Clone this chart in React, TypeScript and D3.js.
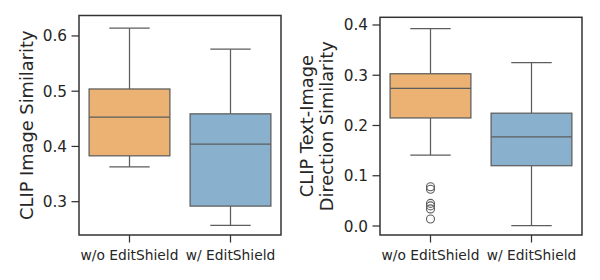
import React from 'react';
import * as d3 from 'd3';

const categories = ['w/o EditShield', 'w/ EditShield'];
const boxColors = ['#ebb273', '#89b0cc'];

// box stats: [lowWhisker, q1, median, q3, highWhisker]
const imageSimStats = [
  [0.363, 0.383, 0.453, 0.504, 0.614],
  [0.257, 0.292, 0.404, 0.459, 0.576],
];
const imageSimOutliers: number[][] = [[], []];
const imageSimTicks = [0.3, 0.4, 0.5, 0.6];

const dirSimStats = [
  [0.141, 0.215, 0.274, 0.303, 0.393],
  [0.001, 0.12, 0.1775, 0.2245, 0.325],
];
const dirSimOutliers = [[0.078, 0.073, 0.045, 0.04, 0.034, 0.014], []];
const dirSimTicks = [0.0, 0.1, 0.2, 0.3, 0.4];

const lineColor = '#5d5d5d';
const spineColor = '#333333';
const textColor = '#262626';

type PanelProps = {
  left: number; right: number; top: number; bottom: number;
  domain: [number, number];
  ticks: number[];
  stats: number[][];
  outliers: number[][];
  label: string[];
  labelX: number;
};

const Panel = ({ left, right, top, bottom, domain, ticks, stats, outliers, label, labelX }: PanelProps) => {
  const x = d3.scaleBand().domain(categories).range([left, right]).paddingInner(0).paddingOuter(0);
  const y = d3.scaleLinear().domain(domain).range([bottom, top]);
  const boxW = x.bandwidth() * 0.8;
  const capW = boxW / 2;
  const fmt = d3.format('.1f');
  const midY = (top + bottom) / 2;

  return (
    <g>
      {categories.map((c, i) => {
        const [lo, q1, med, q3, hi] = stats[i];
        const cx = x(c)! + x.bandwidth() / 2;
        return (
          <g key={c}>
            <line x1={cx} x2={cx} y1={y(q3)} y2={y(hi)} stroke={lineColor} strokeWidth={1.25} />
            <line x1={cx} x2={cx} y1={y(q1)} y2={y(lo)} stroke={lineColor} strokeWidth={1.25} />
            <line x1={cx - capW / 2} x2={cx + capW / 2} y1={y(hi)} y2={y(hi)} stroke={lineColor} strokeWidth={1.25} />
            <line x1={cx - capW / 2} x2={cx + capW / 2} y1={y(lo)} y2={y(lo)} stroke={lineColor} strokeWidth={1.25} />
            <rect x={cx - boxW / 2} y={y(q3)} width={boxW} height={y(q1) - y(q3)}
              fill={boxColors[i]} stroke={lineColor} strokeWidth={1.25} />
            <line x1={cx - boxW / 2} x2={cx + boxW / 2} y1={y(med)} y2={y(med)} stroke={lineColor} strokeWidth={1.25} />
            {outliers[i].map((v, j) => (
              <circle key={j} cx={cx} cy={y(v)} r={4} fill="none" stroke={lineColor} strokeWidth={1.1} />
            ))}
            <line x1={cx} x2={cx} y1={bottom} y2={bottom + 7.5} stroke={spineColor} strokeWidth={1.25} />
            <text x={cx} y={bottom + 25} textAnchor="middle" fontSize={13.8} fill={textColor}>{c}</text>
          </g>
        );
      })}
      {ticks.map(t => (
        <g key={t}>
          <line x1={left - 7.5} x2={left} y1={y(t)} y2={y(t)} stroke={spineColor} strokeWidth={1.25} />
          <text x={left - 12} y={y(t)} dy="0.36em" textAnchor="end" fontSize={15.3} fill={textColor}>{fmt(t)}</text>
        </g>
      ))}
      <rect x={left} y={top} width={right - left} height={bottom - top} fill="none" stroke={spineColor} strokeWidth={1.5} />
      <text transform={`translate(${labelX},${midY}) rotate(-90)`} textAnchor="middle" fontSize={17.8} fill={textColor}>
        {label.map((l, i) => (
          <tspan key={i} x={0} dy={i === 0 ? (label.length === 1 ? '0.35em' : '-0.25em') : '1.12em'}>{l}</tspan>
        ))}
      </text>
    </g>
  );
};

export default function App() {
  return (
    <svg width={600} height={280} style={{ position: 'absolute', left: 0, top: 0, fontFamily: 'DejaVu Sans, sans-serif' }}>
      <rect width={600} height={280} fill="#fff" />
      <Panel left={79} right={281} top={15.5} bottom={235} domain={[0.2397, 0.637]}
        ticks={imageSimTicks} stats={imageSimStats} outliers={imageSimOutliers}
        label={['CLIP Image Similarity']} labelX={27} />
      <Panel left={380} right={582} top={17.3} bottom={235} domain={[-0.0179, 0.4153]}
        ticks={dirSimTicks} stats={dirSimStats} outliers={dirSimOutliers}
        label={['CLIP Text-Image', 'Direction Similarity']} labelX={317} />
    </svg>
  );
}
